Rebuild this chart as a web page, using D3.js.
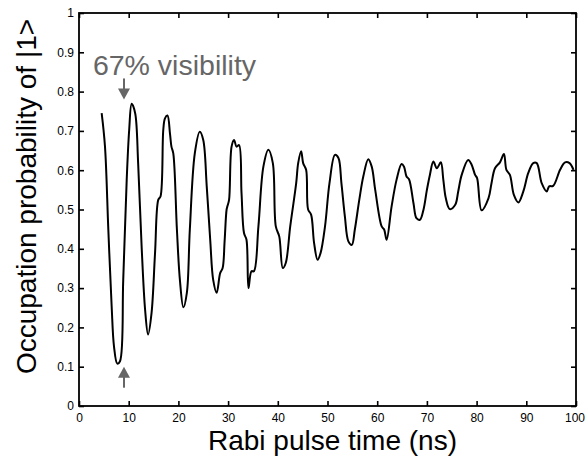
<!DOCTYPE html>
<html>
<head>
<meta charset="utf-8">
<script src="https://cdn.jsdelivr.net/npm/d3@7"></script>
<style>
  html, body { margin: 0; padding: 0; background: #fff; }
  svg { display: block; }
</style>
</head>
<body>
<svg id="chart" width="585" height="460"></svg>
<script>
// ---- data ----
const time = [4.56,5.23,5.9,6.57,7.04,7.7,8.25,8.9,9.6,10.1,10.6,11.3,11.9,12.6,13.3,13.9,14.6,15.3,15.96,16.4,16.96,17.3,17.8,18.3,18.6,18.97,19.7,20.3,21.0,21.7,22.3,23.3,24.3,25.0,25.7,26.4,27.0,27.7,28.4,28.9,29.3,29.7,29.9,30.2,30.7,31.2,31.7,32.2,32.7,33.2,33.7,34.1,34.7,35.2,36.1,37.1,38.1,39.0,39.6,40.3,41.0,41.6,42.5,43.7,44.1,44.7,45.1,45.7,46.1,46.7,47.3,48.0,48.6,49.5,50.4,51.5,52.2,52.8,53.5,54.2,54.9,55.5,56.4,57.2,58.2,58.9,59.6,60.9,61.4,61.9,62.9,63.9,64.9,65.4,65.9,66.4,67.3,67.9,68.6,69.3,70.0,70.6,71.3,72.0,72.8,73.3,73.8,74.6,75.7,76.3,77.0,78.3,79.0,79.7,80.1,81.0,82.4,83.0,83.7,84.7,85.5,86.0,86.7,87.5,88.4,89.4,90.4,91.4,92.1,93.1,94.1,94.6,95.4,96.8,97.8,98.7,99.5];
const prob = [0.745,0.66,0.449,0.254,0.152,0.108,0.114,0.321,0.576,0.703,0.769,0.745,0.618,0.406,0.245,0.182,0.237,0.389,0.525,0.533,0.703,0.732,0.739,0.694,0.66,0.643,0.449,0.321,0.251,0.288,0.449,0.643,0.698,0.677,0.559,0.423,0.321,0.288,0.338,0.351,0.42,0.5,0.51,0.525,0.66,0.677,0.66,0.664,0.542,0.44,0.423,0.30,0.343,0.343,0.457,0.609,0.652,0.618,0.457,0.431,0.351,0.364,0.457,0.567,0.618,0.648,0.618,0.601,0.50,0.487,0.415,0.372,0.389,0.457,0.567,0.639,0.631,0.567,0.482,0.419,0.41,0.449,0.525,0.584,0.628,0.609,0.55,0.457,0.449,0.423,0.508,0.576,0.616,0.609,0.584,0.577,0.516,0.478,0.474,0.499,0.55,0.588,0.622,0.605,0.62,0.576,0.529,0.501,0.512,0.546,0.588,0.626,0.614,0.588,0.58,0.498,0.529,0.567,0.605,0.62,0.641,0.601,0.588,0.537,0.518,0.546,0.593,0.618,0.618,0.567,0.546,0.559,0.56,0.601,0.62,0.618,0.601];

const xTicks = [0,10,20,30,40,50,60,70,80,90,100];
const yTicks = [0,0.1,0.2,0.3,0.4,0.5,0.6,0.7,0.8,0.9,1];
const yTickLabels = ["0","0.1","0.2","0.3","0.4","0.5","0.6","0.7","0.8","0.9","1"];
const xTickLabels = ["0","10","20","30","40","50","60","70","80","90","100"];

const xTitle = "Rabi pulse time (ns)";
const yTitle = "Occupation probability of |1>";
const noteText = "67% visibility";
const notePos = [2.8, 0.842];        // [time, prob] of text baseline start
const arrowDown = [9.05, 0.78];      // tip of upper arrow
const arrowUp = [9.05, 0.10];        // tip of lower arrow

// ---- layout ----
const svg = d3.select("#chart");
const L = 79, R = 576, T = 13, B = 406;
const x = d3.scaleLinear().domain([0, 100]).range([L, R]);
const y = d3.scaleLinear().domain([0, 1]).range([B, T]);
const font = "'Liberation Sans', Arial, Helvetica, sans-serif";

// axes
const ax = svg.append("g").attr("transform", `translate(0,${B})`)
  .call(d3.axisBottom(x).tickValues(xTicks).tickFormat((d,i) => xTickLabels[i])
    .tickSizeInner(-5).tickSizeOuter(0).tickPadding(7));
const ay = svg.append("g").attr("transform", `translate(${L},0)`)
  .call(d3.axisLeft(y).tickValues(yTicks).tickFormat((d,i) => yTickLabels[i])
    .tickSizeInner(-5).tickSizeOuter(0).tickPadding(5));
const at = svg.append("g").attr("transform", `translate(0,${T})`)
  .call(d3.axisTop(x).tickValues(xTicks).tickFormat("").tickSizeInner(-5).tickSizeOuter(0));
const ar = svg.append("g").attr("transform", `translate(${R},0)`)
  .call(d3.axisRight(y).tickValues(yTicks).tickFormat("").tickSizeInner(-5).tickSizeOuter(0));

[ax, ay, at, ar].forEach(g => {
  g.select(".domain").remove();
  g.selectAll(".tick line").attr("stroke", "#000").attr("stroke-width", 1.6);
  g.selectAll(".tick text").attr("fill", "#000").style("font-family", font).style("font-size", "12px");
});
// keep the last x label inside the window
ax.selectAll(".tick text").filter(d => d === 100).attr("text-anchor", "end").attr("dx", "8.5");

// frame
svg.append("rect").attr("x", L).attr("y", T).attr("width", R - L).attr("height", B - T)
  .attr("fill", "none").attr("stroke", "#000").attr("stroke-width", 1.8);

// data line
const pts = time.map((t, i) => [t, prob[i]]);
svg.append("path").datum(pts)
  .attr("fill", "none").attr("stroke", "#000").attr("stroke-width", 2)
  .attr("stroke-linejoin", "round")
  .attr("d", d3.line().x(d => x(d[0])).y(d => y(d[1])).curve(d3.curveCatmullRom.alpha(0.5)));

// axis titles
svg.append("text").attr("x", (L + R) / 2 + 5).attr("y", 450)
  .attr("text-anchor", "middle").style("font-family", font).style("font-size", "28px")
  .attr("fill", "#000").text(xTitle);
svg.append("text").attr("transform", `translate(36,${(T + B) / 2 - 13}) rotate(-90)`)
  .attr("text-anchor", "middle").style("font-family", font).style("font-size", "28px")
  .attr("fill", "#000").text(yTitle);

// annotation
const gray = "#666";
svg.append("text").attr("x", x(notePos[0])).attr("y", y(notePos[1]))
  .style("font-family", font).style("font-size", "28.5px").attr("fill", gray).text(noteText);

function arrow(tip, dir) {
  const tx = x(tip[0]), ty = y(tip[1]);
  const hl = 11, hw = 6, sl = 21;
  svg.append("line").attr("x1", tx).attr("x2", tx)
    .attr("y1", ty - dir * hl + dir * 1).attr("y2", ty - dir * sl)
    .attr("stroke", gray).attr("stroke-width", 2);
  svg.append("path")
    .attr("d", `M${tx},${ty} L${tx - hw},${ty - dir * hl} L${tx + hw},${ty - dir * hl} Z`)
    .attr("fill", gray);
}
arrow(arrowDown, 1);
arrow(arrowUp, -1);
</script>
</body>
</html>
